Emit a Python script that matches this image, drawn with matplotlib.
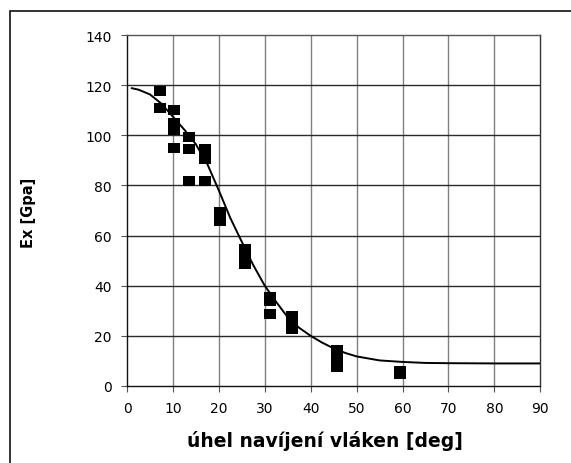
import matplotlib
matplotlib.use("Agg")
import matplotlib.pyplot as plt
from matplotlib.path import Path
from matplotlib.patches import Rectangle

# Measured modulus Ex vs. fibre winding angle
theta = [7.1, 7.1, 10.3, 10.3, 10.3, 10.3, 13.6, 13.6, 13.6, 16.9, 16.9, 16.9,
         20.2, 20.2, 25.8, 25.8, 25.8, 31.2, 31.2, 31.2, 36.0, 36.0, 36.0,
         45.8, 45.8, 45.8, 59.4, 59.4]
ex_meas = [117.8, 111.0, 110.1, 104.9, 102.1, 95.0, 99.4, 94.7, 81.9, 94.6, 90.4, 81.6,
           69.4, 65.8, 54.7, 51.5, 48.6, 35.5, 34.0, 28.8, 27.9, 25.4, 22.9,
           14.5, 11.0, 7.6, 6.0, 4.6]

# Theoretical curve
theta_fit = [1, 2.5, 5, 7.5, 10, 12.5, 15, 17.5, 20, 22.5, 25, 27.5, 30, 32.5, 35,
             37.5, 40, 42.5, 45, 47.5, 50, 55, 60, 65, 70, 80, 90]
ex_fit = [118.8, 118.2, 116.3, 112.6, 107.4, 102.2, 96.4, 88.5, 78.0, 67.0, 57.5,
          48.2, 40.0, 33.5, 27.4, 23.2, 20.0, 17.3, 15.0, 13.2, 11.8, 10.2, 9.6,
          9.2, 9.1, 9.0, 9.0]

x_ticks = [0, 10, 20, 30, 40, 50, 60, 70, 80, 90]
y_ticks = [0, 20, 40, 60, 80, 100, 120, 140]

fig = plt.figure(figsize=(5.71, 4.64), dpi=100)
fig.patch.set_facecolor("white")

# Chart-area frame
fig.patches.append(Rectangle((9.5 / 571, -0.1), 2.0, 1.1 - 12 / 464,
                             transform=fig.transFigure, fill=False,
                             edgecolor="#111111", linewidth=1.2, clip_on=False))

ax = fig.add_axes([127 / 571, 1 - 387 / 464, (540.3 - 127) / 571, (387 - 36) / 464])
ax.set_xlim(0, 90)
ax.set_ylim(0, 140)
ax.set_xticks(x_ticks)
ax.set_yticks(y_ticks)

for v in x_ticks[1:-1]:
    ax.axvline(v, color="#808080", lw=1.0, zorder=1)
for v in y_ticks[1:-1]:
    ax.axhline(v, color="#2a2a2a", lw=1.0, zorder=1)

for side, col in (("left", "#111111"), ("bottom", "#111111"),
                  ("top", "#555555"), ("right", "#333333")):
    ax.spines[side].set_color(col)
    ax.spines[side].set_linewidth(1.0)

rect = Path([(-0.65, -0.5), (0.65, -0.5), (0.65, 0.5), (-0.65, 0.5), (-0.65, -0.5)],
            [Path.MOVETO, Path.LINETO, Path.LINETO, Path.LINETO, Path.CLOSEPOLY])
ax.plot(theta, ex_meas, linestyle="none", marker=rect, markersize=8.9,
        markeredgewidth=0, color="black", zorder=3)
ax.plot(theta_fit, ex_fit, color="black", lw=1.4, zorder=4,
        solid_joinstyle="round", solid_capstyle="round")

ax.tick_params(direction="out", length=4.5, width=0.8, color="#555555",
               labelsize=10, pad=6.5)
for lab in ax.get_xticklabels() + ax.get_yticklabels():
    lab.set_family("DejaVu Sans")

ax.set_xlabel("úhel navíjení vláken [deg]", family="DejaVu Sans",
              fontweight="bold", fontsize=13.5)
ax.xaxis.set_label_coords(0.478, -0.125)
ax.set_ylabel("Ex [Gpa]", family="DejaVu Sans", fontweight="bold",
              fontsize=10.5)
ax.yaxis.set_label_coords(-0.219, 0.495)

fig.savefig("out.png", dpi=100)
